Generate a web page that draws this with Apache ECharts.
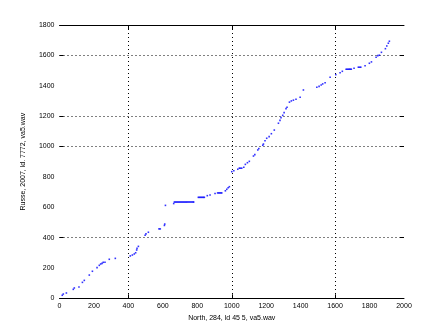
<!DOCTYPE html>
<html>
<head>
<meta charset="utf-8">
<script src="https://cdn.jsdelivr.net/npm/echarts@6/dist/echarts.min.js"></script>
<style>html,body{margin:0;padding:0;background:#fff}#c{width:447px;height:335px}</style>
</head>
<body>
<div id="c"></div>
<script>
const xTitle = "North, 284, ld 45 5, va5.wav";
const yTitle = "Russe, 2007, ld. 7772, va5.wav";
const xTickLabels = [0, 200, 400, 600, 800, 1000, 1200, 1400, 1600, 1800, 2000];
const yTickLabels = [0, 200, 400, 600, 800, 1000, 1200, 1400, 1600, 1800];
const xGridValues = [400, 1000, 1600];
const yGridValues = [400, 1000, 1200, 1600];

const xValues = [16,22,40,80,86,113,133,144,173,191,218,231,239,247,254,264,289,324,
  411,423,434,442,448,450,458,497,502,516,578,585,609,611,615,663,
  667,673,679,685,691,697,703,709,715,721,727,733,739,745,751,757,763,769,775,779,
  806,812,818,824,830,836,841,858,874,903,918,924,930,936,942,963,971,979,986,
  1000,1012,1035,1044,1050,1058,1070,1079,1091,1102,1126,1134,1151,1157,1180,1184,1193,1203,1217,1230,1247,1271,1280,1286,1296,1304,1315,1321,1335,1346,1358,1373,1397,1416,
  1494,1507,1519,1528,1542,1571,1604,1629,1642,1664,1670,1676,1682,1688,1694,1710,1735,1742,1749,1774,1799,1811,1838,1848,1857,1869,1892,1900,1909,1915];
const yValues = [20,28,35,59,68,74,105,118,153,178,202,217,226,230,237,237,257,263,
  279,285,292,300,318,329,342,415,424,435,457,457,480,489,612,624,
  634,634,634,634,634,634,634,634,634,634,634,634,634,634,634,634,634,634,634,634,
  665,665,665,665,665,665,665,676,680,690,694,694,694,694,694,708,718,728,735,
  834,840,850,857,857,857,863,882,893,902,937,946,977,986,1008,1016,1038,1054,1065,1084,1108,1153,1172,1190,1205,1223,1249,1258,1292,1300,1305,1311,1324,1372,
  1390,1396,1405,1412,1420,1456,1473,1486,1495,1509,1509,1509,1509,1509,1509,1515,1522,1522,1522,1532,1548,1557,1588,1598,1601,1620,1644,1662,1680,1693];

const points = xValues.map((x, i) => [x, yValues[i]]);
const font = { fontFamily: 'Liberation Sans', fontSize: 7, color: '#000' };
const gridDash = [1, 3];
const plain = v => String(v);

const chart = echarts.init(document.getElementById('c'), null, { renderer: 'canvas' });
chart.setOption({
  animation: false,
  backgroundColor: '#fff',
  grid: { left: 59.5, right: 43, top: 25, bottom: 36.7, containLabel: false },
  xAxis: [
    {
      type: 'value', min: 0, max: 2000, interval: 200, position: 'bottom',
      name: xTitle, nameLocation: 'middle', nameGap: 11,
      nameTextStyle: Object.assign({}, font),
      axisLine: { show: true, onZero: false, lineStyle: { color: '#000', width: 1 } },
      axisTick: { show: true, inside: true, length: 4, customValues: xGridValues, lineStyle: { color: '#000' } },
      axisLabel: Object.assign({ margin: 4, customValues: xTickLabels, formatter: plain }, font),
      splitLine: { show: true, lineStyle: { color: '#000', type: gridDash, width: 1 } }
    },
    {
      type: 'value', min: 0, max: 2000, interval: 200, position: 'top',
      axisLine: { show: true, onZero: false, lineStyle: { color: '#000', width: 1 } },
      axisTick: { show: true, inside: true, length: 4, customValues: xGridValues, lineStyle: { color: '#000' } },
      axisLabel: { show: false },
      splitLine: { show: false }
    }
  ],
  yAxis: [
    {
      type: 'value', min: 0, max: 1800, interval: 200, position: 'left',
      name: yTitle, nameLocation: 'middle', nameGap: 33, nameRotate: 90,
      nameTextStyle: Object.assign({}, font),
      axisLine: { show: false, onZero: false },
      axisTick: { show: true, inside: true, length: 4, customValues: yGridValues, lineStyle: { color: '#000' } },
      axisLabel: Object.assign({ margin: 5, customValues: yTickLabels, formatter: plain }, font),
      splitLine: { show: true, lineStyle: { color: '#000', type: gridDash, width: 1 } }
    },
    {
      type: 'value', min: 0, max: 1800, interval: 200, position: 'right',
      axisLine: { show: false, onZero: false },
      axisTick: { show: true, inside: true, length: 4, customValues: yGridValues, lineStyle: { color: '#000' } },
      axisLabel: { show: false },
      splitLine: { show: false }
    }
  ],
  series: [{
    type: 'scatter',
    data: points,
    symbol: 'rect',
    symbolSize: 1.6,
    itemStyle: { color: '#0000ff' },
    silent: true
  }]
});
</script>
</body>
</html>
